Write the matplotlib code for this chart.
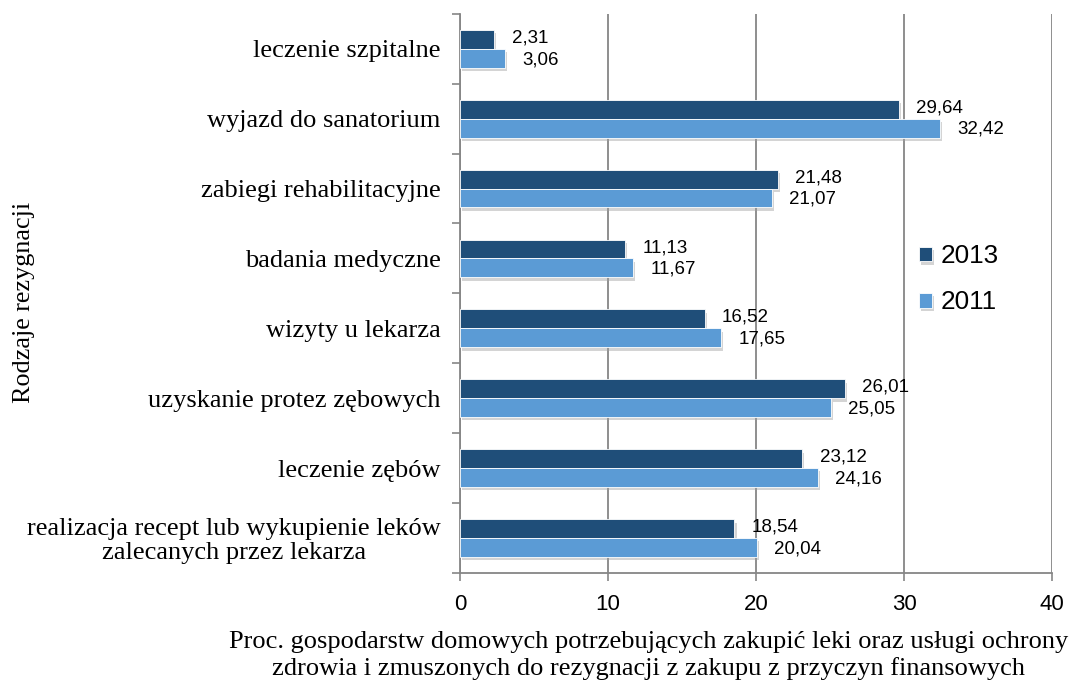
import numpy as np
import matplotlib
matplotlib.use("Agg")
import matplotlib.pyplot as plt
import matplotlib.patheffects as pe

categories = [
    "leczenie szpitalne",
    "wyjazd do sanatorium",
    "zabiegi rehabilitacyjne",
    "badania medyczne",
    "wizyty u lekarza",
    "uzyskanie protez zębowych",
    "leczenie zębów",
    "realizacja recept lub wykupienie leków\nzalecanych przez lekarza",
]
vals_2013 = [2.31, 29.64, 21.48, 11.13, 16.52, 26.01, 23.12, 18.54]
vals_2011 = [3.06, 32.42, 21.07, 11.67, 17.65, 25.05, 24.16, 20.04]
xticks = [0, 10, 20, 30, 40]

c2013 = "#1f4e79"
c2011 = "#5b9bd5"
grid_c = "#868686"
serif = "Liberation Serif"
sans = "Liberation Sans"

fig = plt.figure(figsize=(10.75, 6.91), dpi=100)
ax = fig.add_axes([0.428, 0.171, 0.5506, 0.809])

y = np.arange(len(categories))
h = 0.27
shadow = [pe.SimplePatchShadow(offset=(1.5, -2.5), shadow_rgbFace="#a0a0a0", alpha=0.45), pe.Normal()]

b1 = ax.barh(y - h / 2, vals_2013, height=h, color=c2013, edgecolor="white", linewidth=0.6,
             label="2013", zorder=3)
b2 = ax.barh(y + h / 2, vals_2011, height=h, color=c2011, edgecolor="white", linewidth=0.6,
             label="2011", zorder=3)
for bar in list(b1) + list(b2):
    bar.set_path_effects(shadow)

def fmt(v):
    return f"{v:.2f}".replace(".", ",")

# value labels just right of each bar end
for yi, v in zip(y, vals_2013):
    ax.annotate(fmt(v), (v, yi - h / 2), xytext=(12.5, 1), textcoords="offset points",
                va="center", ha="left", fontsize=13.5, family=sans, zorder=4)
for yi, v in zip(y, vals_2011):
    ax.annotate(fmt(v), (v, yi + h / 2), xytext=(12.5, -1), textcoords="offset points",
                va="center", ha="left", fontsize=13.5, family=sans, zorder=4)

ax.set_xlim(0, 40)
ax.set_ylim(len(categories) - 0.5, -0.5)
ax.set_xticks(xticks)
ax.set_xticklabels([str(t) for t in xticks], fontsize=16, family=sans)
ax.set_yticks(y)
ax.set_yticklabels(categories, fontsize=19, family=serif, linespacing=1.1)
for lbl in ax.get_yticklabels():
    lbl.set_multialignment("center")
ax.tick_params(axis="y", length=0, pad=14)
ax.set_yticks(np.arange(-0.5, len(categories)), minor=True)
ax.tick_params(axis="y", which="minor", length=6, color=grid_c, width=1.2)
ax.tick_params(axis="x", length=6, color=grid_c, width=1.2, pad=9)

ax.grid(axis="x", color=grid_c, linewidth=1.3, zorder=0)
ax.set_axisbelow(True)
for s in ["top", "right"]:
    ax.spines[s].set_visible(False)
for s in ["left", "bottom"]:
    ax.spines[s].set_color(grid_c)
    ax.spines[s].set_linewidth(1.3)

fig.text(0.603, 0.051,
         "Proc. gospodarstw domowych potrzebujących zakupić leki oraz usługi ochrony\n"
         "zdrowia i zmuszonych do rezygnacji z zakupu z przyczyn finansowych",
         fontsize=19, family=serif, ha="center", va="center", linespacing=1.2)
fig.text(0.022, 0.563, "Rodzaje rezygnacji", rotation=90, fontsize=18.8, family=serif,
         ha="center", va="center")

leg = ax.legend(loc="center left", bbox_to_anchor=(0.735, 0.525), frameon=False,
                prop={"family": sans, "size": 18.8}, handlelength=0.5, handleheight=0.5,
                labelspacing=0.85, handletextpad=0.35)

fig.savefig("out.png", dpi=100)
